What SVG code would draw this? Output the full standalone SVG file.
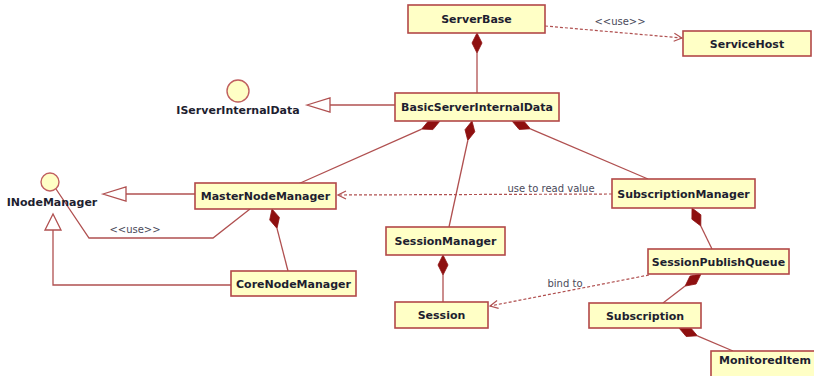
<svg xmlns="http://www.w3.org/2000/svg" width="814" height="376" viewBox="0 0 814 376">
<style>
.box{fill:#FFFFC6;stroke:#B24848;stroke-width:1.6}
.lbl{font-family:"DejaVu Sans",sans-serif;font-weight:bold;font-size:11px;fill:#1E1E30;text-anchor:middle}
.ann{font-family:"DejaVu Sans",sans-serif;font-size:10px;fill:#4A4A5A;text-anchor:middle}
.ln{fill:none;stroke:#B05050;stroke-width:1.3}
.dash{fill:none;stroke:#B05050;stroke-width:1.2;stroke-dasharray:3,2}
.dia{fill:#8E1010;stroke:#8E1010;stroke-width:0.8}
.tri{fill:#FFFFFF;stroke:#B05050;stroke-width:1.3}
.ifc{fill:#FFFFC6;stroke:#C06060;stroke-width:1.4}
</style>
<defs>
<marker id="open" markerWidth="10" markerHeight="10" refX="9" refY="5" orient="auto" markerUnits="userSpaceOnUse">
<path d="M1,1 L9,5 L1,9" fill="none" stroke="#B05050" stroke-width="1.2"/>
</marker>
</defs>
<rect width="814" height="376" fill="#FFFFFF"/>
<g id="connectors">
<!-- ServerBase uses ServiceHost -->
<path class="dash" d="M545,26 L682,38" marker-end="url(#open)"/>
<text class="ann" x="620" y="25">&lt;&lt;use&gt;&gt;</text>
<!-- ServerBase composition BasicServerInternalData -->
<polygon class="dia" points="477,33 482,43 477,53 472,43"/>
<path class="ln" d="M477,53 L477,93"/>
<!-- Basic realizes IServerInternalData -->
<path class="ln" d="M330,105 L395,105"/>
<polygon class="tri" points="307,105 330,98 330,112"/>
<!-- Basic composition MasterNodeManager -->
<polygon class="dia" points="440,121 428.8,120.5 421.7,129.1 432.9,129.6"/>
<path class="ln" d="M421.7,129.1 L298,184"/>
<!-- Basic composition SessionManager -->
<polygon class="dia" points="472,121 465,129.7 467.8,140.5 474.8,131.8"/>
<path class="ln" d="M467.8,140.5 L449,227"/>
<!-- Basic composition SubscriptionManager -->
<polygon class="dia" points="512,121 523.2,120.3 530.4,128.8 519.2,129.5"/>
<path class="ln" d="M530.4,128.8 L648,179"/>
<!-- SubscriptionManager use to read value MasterNodeManager -->
<path class="dash" d="M612,194 L338,195" marker-end="url(#open)"/>
<text class="ann" x="551" y="192">use to read value</text>
<!-- MasterNodeManager realizes INodeManager -->
<path class="ln" d="M126,194 L195,194"/>
<polygon class="tri" points="103,194 126,187 126,201"/>
<!-- MasterNodeManager use INodeManager -->
<path class="ln" d="M250,209 L213,238 L89,238 L56,189"/>
<text class="ann" x="135" y="233">&lt;&lt;use&gt;&gt;</text>
<!-- MasterNodeManager composition CoreNodeManager -->
<polygon class="dia" points="272,209 269.7,219.9 277,228.4 279.4,217.4"/>
<path class="ln" d="M277,228.4 L288,271"/>
<!-- CoreNodeManager realizes INodeManager -->
<path class="ln" d="M231,285 L53,285 L53,230"/>
<polygon class="tri" points="53,214 45,230 61,230"/>
<!-- SessionManager composition Session -->
<polygon class="dia" points="443,255 448,265 443,275 438,265"/>
<path class="ln" d="M443,275 L443,302"/>
<!-- SubscriptionManager composition SessionPublishQueue -->
<polygon class="dia" points="692,208 691.9,219.2 700.8,226 700.9,214.8"/>
<path class="ln" d="M700.8,226 L712,249"/>
<!-- SessionPublishQueue bind to Session -->
<path class="dash" d="M649,275 L490,306" marker-end="url(#open)"/>
<text class="ann" x="565" y="287">bind to</text>
<!-- SessionPublishQueue composition Subscription -->
<polygon class="dia" points="701,274 690,276.1 685.1,286.1 696.1,284"/>
<path class="ln" d="M685.1,286.1 L663,303"/>
<!-- Subscription composition MonitoredItem -->
<polygon class="dia" points="679,328 690.2,327.3 697.4,335.8 686.2,336.5"/>
<path class="ln" d="M697.4,335.8 L733,351"/>
</g>
<g id="ServerBase">
<rect class="box" x="408" y="5" width="137" height="28"/>
<text class="lbl" x="476.5" y="23">ServerBase</text>
</g>
<g id="ServiceHost">
<rect class="box" x="683" y="31" width="128" height="25"/>
<text class="lbl" x="747" y="47.5">ServiceHost</text>
</g>
<g id="IServerInternalData">
<circle class="ifc" cx="238" cy="91" r="11"/>
<text class="lbl" x="238" y="114">IServerInternalData</text>
</g>
<g id="BasicServerInternalData">
<rect class="box" x="395" y="93" width="164" height="28"/>
<text class="lbl" x="477" y="111">BasicServerInternalData</text>
</g>
<g id="INodeManager">
<circle class="ifc" cx="50" cy="182" r="9"/>
<text class="lbl" x="52" y="206">INodeManager</text>
</g>
<g id="MasterNodeManager">
<rect class="box" x="195" y="183" width="141" height="26"/>
<text class="lbl" x="265.5" y="200">MasterNodeManager</text>
</g>
<g id="SubscriptionManager">
<rect class="box" x="612" y="179" width="143" height="29"/>
<text class="lbl" x="683.5" y="197.5">SubscriptionManager</text>
</g>
<g id="SessionManager">
<rect class="box" x="386" y="227" width="119" height="28"/>
<text class="lbl" x="445.5" y="245">SessionManager</text>
</g>
<g id="CoreNodeManager">
<rect class="box" x="231" y="271" width="125" height="25"/>
<text class="lbl" x="293.5" y="287.5">CoreNodeManager</text>
</g>
<g id="SessionPublishQueue">
<rect class="box" x="648" y="249" width="141" height="25"/>
<text class="lbl" x="718.5" y="265.5">SessionPublishQueue</text>
</g>
<g id="Session">
<rect class="box" x="395" y="302" width="93" height="26"/>
<text class="lbl" x="441.5" y="319">Session</text>
</g>
<g id="Subscription">
<rect class="box" x="589" y="303" width="112" height="25"/>
<text class="lbl" x="645" y="319.5">Subscription</text>
</g>
<g id="MonitoredItem">
<rect class="box" x="711" y="351" width="106" height="30"/>
<text class="lbl" x="719" y="364" style="text-anchor:start">MonitoredItem</text>
</g>
</svg>
